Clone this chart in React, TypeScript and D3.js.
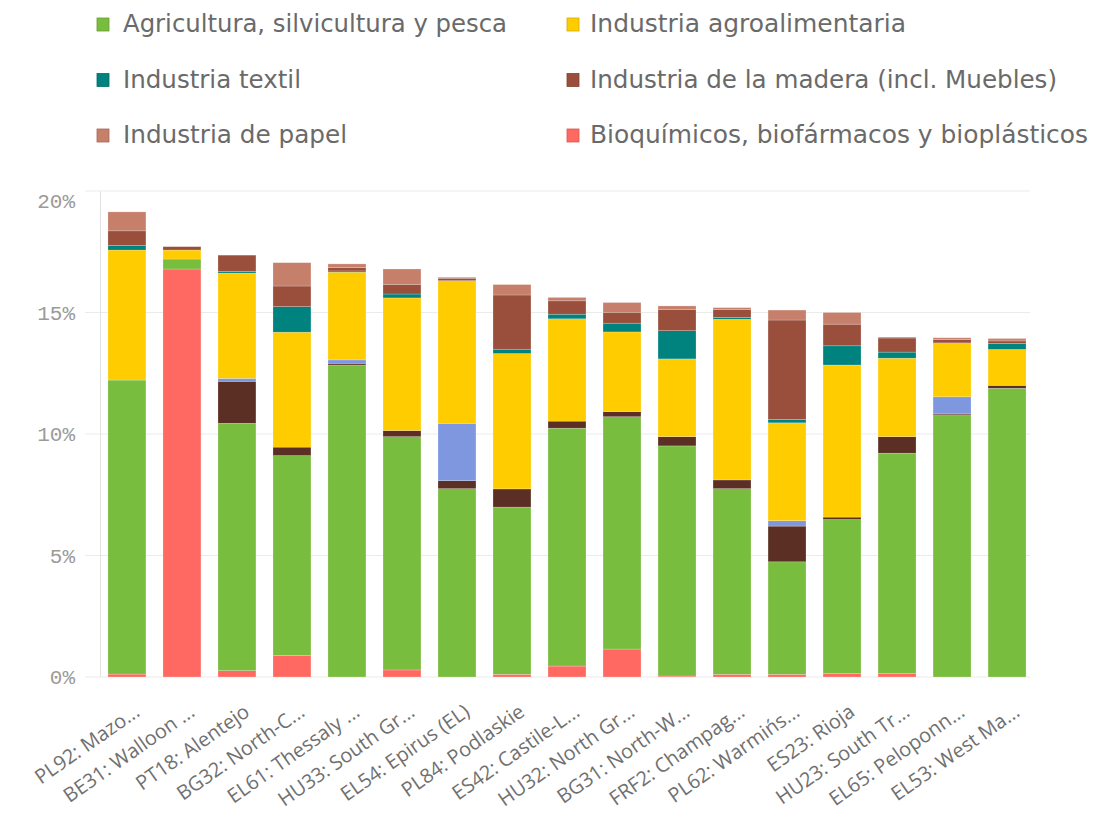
import React from "react";
import * as d3 from "d3";

const categories = [
  "PL92: Mazo...", "BE31: Walloon ...", "PT18: Alentejo", "BG32: North-C...",
  "EL61: Thessaly ...", "HU33: South Gr...", "EL54: Epirus (EL)", "PL84: Podlaskie",
  "ES42: Castile-L...", "HU32: North Gr...", "BG31: North-W...", "FRF2: Champag...",
  "PL62: Warmińs...", "ES23: Rioja", "HU23: South Tr...", "EL65: Peloponn...", "EL53: West Ma...",
];

// values in %
const bioquimicos = [0.12, 16.79, 0.26, 0.88, 0, 0.29, 0, 0.11, 0.45, 1.15, 0.04, 0.11, 0.11, 0.14, 0.14, 0, 0];
const agricultura = [12.10, 0.41, 10.18, 8.23, 12.84, 9.60, 7.75, 6.88, 9.79, 9.56, 9.47, 7.64, 4.63, 6.34, 9.07, 10.79, 11.88];
const serieOscura = [0, 0, 1.73, 0.35, 0.07, 0.25, 0.33, 0.75, 0.29, 0.21, 0.38, 0.36, 1.47, 0.10, 0.68, 0.06, 0.12];
const serieAzul = [0, 0, 0.12, 0, 0.14, 0, 2.36, 0, 0, 0, 0, 0, 0.22, 0, 0, 0.68, 0];
const agroalimentaria = [5.35, 0.37, 4.33, 4.73, 3.61, 5.46, 5.87, 5.57, 4.21, 3.28, 3.20, 6.61, 4.03, 6.26, 3.23, 2.20, 1.48];
const textil = [0.19, 0, 0.07, 1.05, 0.05, 0.16, 0, 0.18, 0.19, 0.36, 1.16, 0.08, 0.14, 0.79, 0.25, 0.02, 0.25];
const madera = [0.60, 0.14, 0.67, 0.85, 0.14, 0.40, 0.10, 2.23, 0.55, 0.45, 0.88, 0.33, 4.09, 0.89, 0.58, 0.14, 0.10];
const papel = [0.78, 0, 0, 0.96, 0.15, 0.63, 0.04, 0.43, 0.14, 0.40, 0.14, 0.07, 0.41, 0.48, 0.04, 0.07, 0.10];

const yTicks = [0, 5, 10, 15, 20];

const seriesKeys = ["bio", "agri", "oscura", "azul", "agro", "textil", "madera", "papel"];
const seriesValues: Record<string, number[]> = {
  bio: bioquimicos, agri: agricultura, oscura: serieOscura, azul: serieAzul,
  agro: agroalimentaria, textil: textil, madera: madera, papel: papel,
};
const seriesColors: Record<string, string> = {
  bio: "#ff6961", agri: "#79bd3e", oscura: "#5c2f25", azul: "#7f97de",
  agro: "#ffcc00", textil: "#00827f", madera: "#994f3b", papel: "#c67f6a",
};

const legendItems = [
  { key: "agri", label: "Agricultura, silvicultura y pesca", w: 384 },
  { key: "agro", label: "Industria agroalimentaria", w: 316 },
  { key: "textil", label: "Industria textil", w: 178 },
  { key: "madera", label: "Industria de la madera (incl. Muebles)", w: 467 },
  { key: "papel", label: "Industria de papel", w: 224 },
  { key: "bio", label: "Bioquímicos, biofármacos y bioplásticos", w: 498 },
];

export default function App() {
  const W = 1095, H = 819;
  const x = d3.scaleBand<string>().domain(categories).range([100, 1034]).paddingInner(0.31).paddingOuter(0.145);
  const y = d3.scaleLinear().domain([0, 20]).range([677, 191]);

  const table = categories.map((c, i) => {
    const row: any = { cat: c };
    seriesKeys.forEach((k) => (row[k] = seriesValues[k][i]));
    return row;
  });
  const stacked = d3.stack<any>().keys(seriesKeys)(table);

  return (
    <svg width={W} height={H} style={{ position: "absolute", left: 0, top: 0, background: "#fff" }}>
      {/* legend */}
      {legendItems.map((it, i) => {
        const col = i % 2, row = Math.floor(i / 2);
        const sx = col === 0 ? 97 : 567;
        const tx = col === 0 ? 123 : 590;
        const base = 32 + row * 55.5;
        return (
          <g key={it.key}>
            <rect x={sx} y={base - 14} width={12} height={13} fill={seriesColors[it.key]}
              stroke={d3.color(seriesColors[it.key])!.darker(0.5).toString()} strokeWidth={0.8} />
            <text x={tx} y={base} fontSize={24} fill="#6a6a6a"
              fontFamily="'Liberation Sans Narrow', 'DejaVu Sans Condensed', Roboto, sans-serif"
              textLength={it.w} lengthAdjust="spacingAndGlyphs">{it.label}</text>
          </g>
        );
      })}

      {/* grid */}
      {yTicks.map((t) => (
        <g key={t}>
          <line x1={85} x2={1030} y1={y(t)} y2={y(t)} stroke="#ebebeb" strokeWidth={1} />
          <text x={75} y={Math.max(y(t), 201)} dy="0.35em" textAnchor="end" fontSize={21}
            fontFamily="'Liberation Mono', 'DejaVu Sans Mono', monospace" fill="#9a9a9a">{t + "%"}</text>
        </g>
      ))}
      <line x1={100.5} x2={100.5} y1={y(20)} y2={y(0)} stroke="#e2e2e2" strokeWidth={1} />

      {/* bars */}
      {stacked.map((s) => (
        <g key={s.key} fill={seriesColors[s.key]}>
          {s.map((d, i) => {
            const h = y(d[0]) - y(d[1]);
            if (h <= 0) return null;
            return (
              <rect key={i} x={x(categories[i])} y={y(d[1])} width={x.bandwidth()} height={h}
                stroke="#ffffff" strokeOpacity={0.35} strokeWidth={0.6} />
            );
          })}
        </g>
      ))}

      {/* x labels */}
      {categories.map((c) => {
        const cx = (x(c) as number) + x.bandwidth() / 2;
        return (
          <text key={c} transform={`translate(${cx + 10},${709}) rotate(-35)`} textAnchor="end" dy="0.35em"
            fontSize={20} fontFamily="'Open Sans', 'Noto Sans', sans-serif" fill="#707070">{c}</text>
        );
      })}
    </svg>
  );
}
